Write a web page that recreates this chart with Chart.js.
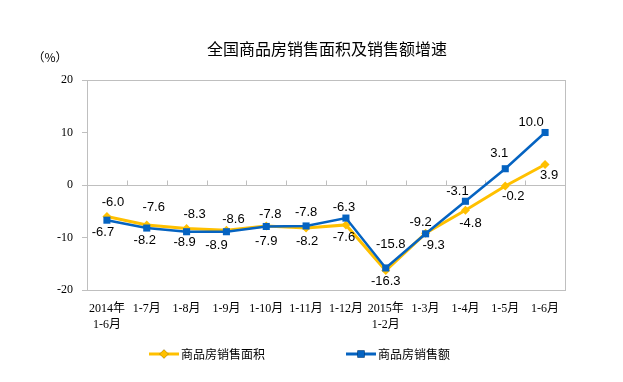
<!DOCTYPE html>
<html><head><meta charset="utf-8">
<script src="https://cdn.jsdelivr.net/npm/chart.js@4.4.1/dist/chart.umd.min.js"></script>
<style>html,body{margin:0;padding:0;background:#fff;}#wrap{width:623px;height:382px;}</style>
</head><body><div id="wrap"><canvas id="c" width="623" height="382"></canvas></div>
<script>
const categories = [["2014年","1-6月"],"1-7月","1-8月","1-9月","1-10月","1-11月","1-12月",["2015年","1-2月"],"1-3月","1-4月","1-5月","1-6月"];
const areaGrowth = [-6.0,-7.6,-8.3,-8.6,-7.8,-8.2,-7.6,-16.3,-9.2,-4.8,-0.2,3.9];
const valueGrowth = [-6.7,-8.2,-8.9,-8.9,-7.9,-7.8,-6.3,-15.8,-9.3,-3.1,3.1,10.0];
const yTicks = [20,10,0,-10,-20];
const seriesNames = ["商品房销售面积","商品房销售额"];
const chartTitle = "全国商品房销售面积及销售额增速";
const unitLabel = "（%）";
// label offsets (dx, dy) relative to point, layout only
const areaLabelOffset = [[6,-14],[7,-17],[8,-14],[7,-11],[4,-12],[1,13],[-2,13],[0,11],[-5,-11],[5,13],[8,10],[4,11]];
const valueLabelOffset = [[-4,12],[-2,12],[-2,11],[-10,14],[0,15],[0,-14],[-2,-11],[5,-24],[8,12],[-8,-10],[-6,-15],[-14,-10]];

const YELLOW = '#FFC000', BLUE = '#0563C1', GRID = '#BFBFBF';

const decor = {
  id: 'decor',
  beforeDatasetsDraw(chart) {
    const {ctx, chartArea: a, scales: {x, y}} = chart;
    ctx.save();
    ctx.strokeStyle = GRID; ctx.lineWidth = 1;
    ctx.strokeRect(Math.round(a.left)+0.5, Math.round(a.top)+0.5, Math.round(a.right-a.left), Math.round(a.bottom-a.top));
    const y0 = Math.round(y.getPixelForValue(0)) + 0.5;
    ctx.beginPath(); ctx.moveTo(a.left, y0); ctx.lineTo(a.right, y0);
    const n = categories.length, w = (a.right - a.left) / n;
    for (let i = 1; i < n; i++) {
      const xx = Math.round(a.left + w * i) + 0.5;
      ctx.moveTo(xx, y0); ctx.lineTo(xx, y0 - 5);
    }
    ctx.stroke();
    ctx.restore();
  },
  afterDatasetsDraw(chart) {
    const {ctx} = chart;
    ctx.save();
    ctx.font = '13px "Liberation Sans", Arial, sans-serif';
    ctx.fillStyle = '#000'; ctx.textAlign = 'center'; ctx.textBaseline = 'middle';
    const offs = [areaLabelOffset, valueLabelOffset];
    chart.data.datasets.forEach((ds, di) => {
      const meta = chart.getDatasetMeta(di);
      meta.data.forEach((pt, i) => {
        const o = offs[di][i];
        ctx.fillText(ds.data[i].toFixed(1), pt.x + o[0], pt.y + o[1]);
      });
    });
    // title
    ctx.font = '16px "Noto Sans CJK SC", sans-serif';
    ctx.fillText(chartTitle, 327, 49);
    ctx.font = '12px "Noto Sans CJK SC", sans-serif';
    ctx.fillText(unitLabel, 50, 57);
    // legend
    const items = [{c: YELLOW, s: 'rectRot', x: 149, r: 4.5}, {c: BLUE, s: 'rect', x: 346, r: 5}];
    items.forEach((it, k) => {
      const ly = 354;
      ctx.strokeStyle = it.c; ctx.lineWidth = 3;
      ctx.beginPath(); ctx.moveTo(it.x, ly); ctx.lineTo(it.x + 30, ly); ctx.stroke();
      Chart.helpers.drawPoint(ctx, {pointStyle: it.s, radius: it.r, borderWidth: 0}, it.x + 15, ly);
      ctx.fillStyle = it.c; ctx.fill();
      ctx.fillStyle = '#000'; ctx.textAlign = 'left';
      ctx.font = '12px "Noto Sans CJK SC", sans-serif';
      ctx.fillText(seriesNames[k], it.x + 32, ly);
    });
    ctx.restore();
  }
};

new Chart(document.getElementById('c'), {
  type: 'line',
  data: {
    labels: categories,
    datasets: [
      {label: seriesNames[0], data: areaGrowth, borderColor: YELLOW, backgroundColor: YELLOW, borderWidth: 3,
       pointStyle: 'rectRot', pointRadius: 4.5, pointBorderWidth: 0, tension: 0, order: 2},
      {label: seriesNames[1], data: valueGrowth, borderColor: BLUE, backgroundColor: BLUE, borderWidth: 2.5,
       pointStyle: 'rect', pointRadius: 5, pointBorderWidth: 0, tension: 0, order: 1}
    ]
  },
  options: {
    responsive: false, animation: false, devicePixelRatio: 1,
    layout: {padding: {left: 0, top: 80, right: 58, bottom: 0}},
    plugins: {legend: {display: false}, title: {display: false}, tooltip: {enabled: false}},
    scales: {
      x: {
        offset: true,
        grid: {display: false, drawTicks: false},
        border: {display: false},
        ticks: {color: '#000', padding: 11, maxRotation: 0, autoSkip: false,
          font: {family: '"Liberation Serif", "Noto Sans CJK SC", serif', size: 12, lineHeight: 1.35}},
        afterFit(s) { s.height = 92; }
      },
      y: {
        min: -20, max: 20,
        afterBuildTicks(s) { s.ticks = yTicks.map(v => ({value: v})); },
        grid: {drawOnChartArea: false, drawTicks: true, tickLength: 5, color: GRID},
        border: {display: true, color: GRID},
        ticks: {color: '#000', padding: 9, font: {family: '"Liberation Serif", serif', size: 12}},
        afterFit(s) { s.width = 87; }
      }
    }
  },
  plugins: [decor]
});
</script></body></html>
